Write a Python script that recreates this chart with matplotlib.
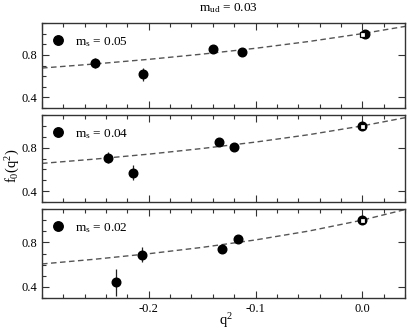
import matplotlib
matplotlib.use('Agg')
import matplotlib.pyplot as plt
from matplotlib.ticker import MultipleLocator

plt.rcParams['font.family'] = ['Liberation Serif', 'DejaVu Serif']
plt.rcParams['mathtext.fontset'] = 'custom'
plt.rcParams['mathtext.rm'] = 'Liberation Serif'
plt.rcParams['mathtext.it'] = 'Liberation Serif'

# Data, one panel per strange quark mass
ms_labels = ['0.05', '0.04', '0.02']

q2_data = [
    [-0.250, -0.2055, -0.140, -0.113, 0.003],
    [-0.238, -0.2146, -0.134, -0.120, 0.000],
    [-0.231, -0.206, -0.131, -0.116, 0.000],
]
f0_data = [
    [0.723, 0.617, 0.859, 0.825, 1.000],
    [0.707, 0.571, 0.850, 0.804, 1.000],
    [0.441, 0.690, 0.743, 0.833, 1.000],
]
f0_err = [
    [0.05, 0.06, 0.02, 0.02, 0.01],
    [0.05, 0.07, 0.02, 0.02, 0.01],
    [0.12, 0.07, 0.04, 0.02, 0.01],
]

# fit curves (read at a few q^2 values)
q2_fit = [-0.30, -0.25, -0.20, -0.15, -0.10, -0.05, 0.00, 0.04]
f0_fit = [
    [0.676, 0.715, 0.758, 0.807, 0.862, 0.926, 1.000, 1.068],
    [0.655, 0.695, 0.740, 0.792, 0.851, 0.919, 1.000, 1.075],
    [0.606, 0.649, 0.698, 0.755, 0.822, 0.902, 1.000, 1.095],
]

# f+(0) constraint point
q2_zero = [0.0]
f0_zero = [1.0]

W, H = 415, 332
fig = plt.figure(figsize=(W / 100, H / 100), dpi=100)

# panel boxes in pixels (top, bottom)
boxes = [(23, 108), (115, 202), (209, 298)]
left_px, right_px = 42, 405

for i, (top, bot) in enumerate(boxes):
    ax = fig.add_axes([left_px / W, 1 - bot / H, (right_px - left_px) / W, (bot - top) / H])

    ax.plot(q2_fit, f0_fit[i], linestyle=(0, (4, 2.5)), color='#555555', lw=1.0, zorder=1)
    ax.errorbar(q2_data[i], f0_data[i], yerr=f0_err[i], fmt='none', ecolor='#222222',
                elinewidth=0.9, capsize=0, zorder=2)
    ax.plot(q2_data[i], f0_data[i], 'o', color='black', ms=6.2, zorder=3,
            label='m$_\\mathregular{s}$ = ' + ms_labels[i])
    ax.plot(q2_zero, f0_zero, 's', mfc='white', mec='black', mew=0.9, ms=3.6, zorder=4)

    ax.set_xlim(-0.3, 0.04)
    ax.set_ylim(0.3, 1.1)
    ax.xaxis.set_major_locator(MultipleLocator(0.1))
    ax.xaxis.set_minor_locator(MultipleLocator(0.02))
    ax.yaxis.set_major_locator(MultipleLocator(0.4))
    ax.yaxis.set_minor_locator(MultipleLocator(0.1))
    ax.tick_params(which='both', direction='in', top=True, right=True, labelsize=9,
                   color='#333333')
    ax.tick_params(which='major', length=5, width=0.8)
    ax.tick_params(which='minor', length=3, width=0.8, right=False)
    for sp in ax.spines.values():
        sp.set_color('#333333')
        sp.set_linewidth(1.0)
    if i < 2:
        ax.tick_params(labelbottom=False)
    else:
        ax.set_xticks([-0.2, -0.1, 0.0])
        ax.set_xticklabels(['-0.2', '-0.1', '0.0'])

    ax.legend(loc='upper left', frameon=False, fontsize=9.5, handlelength=0.6,
              handletextpad=1.0, borderaxespad=0.5, borderpad=0.4, markerscale=1.1)

fig.text(0.55, 0.975, 'm$_\\mathregular{ud}$ = 0.03', ha='center', va='center', fontsize=9.5)
fig.text(0.03, 0.5, 'f$_\\mathregular{0}$(q$^\\mathregular{2}$)', ha='center', va='center',
         rotation=90, fontsize=10.5)
fig.text(0.545, 0.035, 'q$^\\mathregular{2}$', ha='center', va='center', fontsize=10.5)

fig.savefig('out.png', dpi=100)
